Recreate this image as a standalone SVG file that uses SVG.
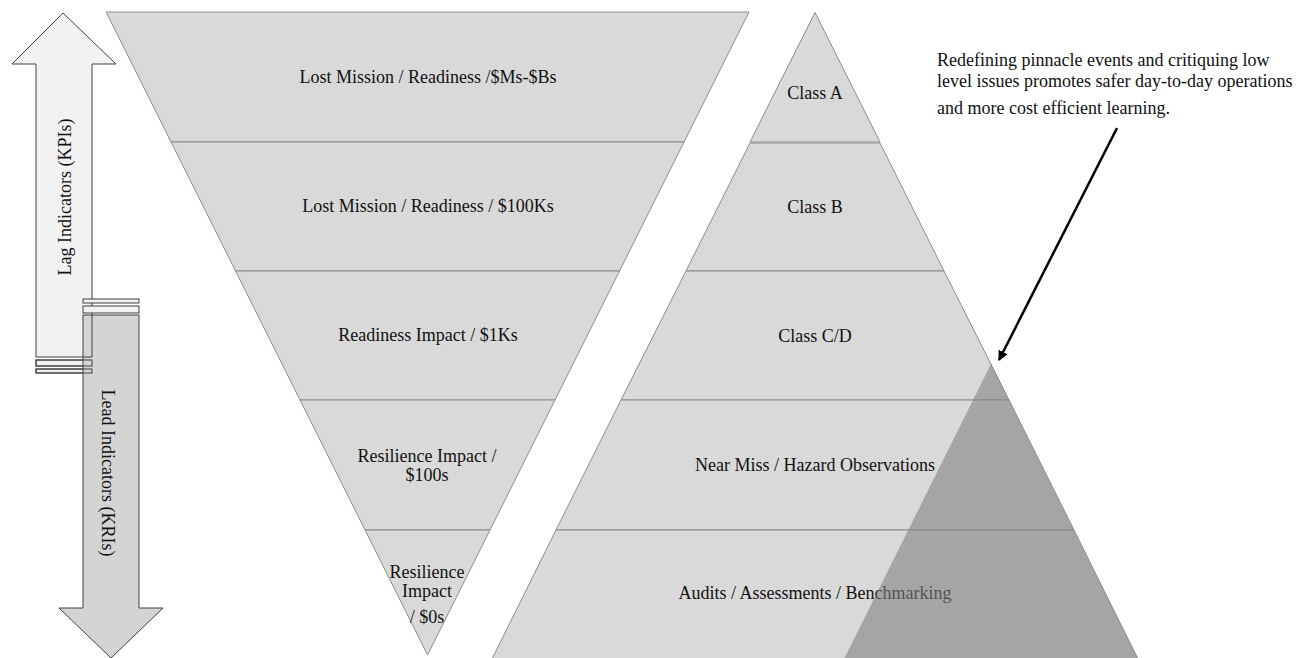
<svg xmlns="http://www.w3.org/2000/svg" width="1309" height="658" viewBox="0 0 1309 658">
<defs>
<style>
.band{fill:#d9d9d9;stroke:#8c8c8c;stroke-width:1}
.lbl{font-family:"Liberation Serif","Times New Roman",serif;font-size:18px;fill:#111;text-anchor:middle}
.note{font-family:"Liberation Serif","Times New Roman",serif;font-size:18px;fill:#111}
.arr{stroke:#404040;stroke-width:1}
</style>
<marker id="ah" viewBox="0 0 10 10" refX="9" refY="5" markerWidth="4" markerHeight="4" orient="auto" markerUnits="strokeWidth">
<path d="M0,0 L10,5 L0,10 Z" fill="#000"/>
</marker>
</defs>
<rect width="1309" height="658" fill="#fff"/>

<g id="lag-arrow">
<path class="arr" fill="#f2f2f2" d="M63,13 L116,64 L92,64 L92,357 L36,357 L36,64 L12,64 Z"/>
<rect class="arr" fill="#f2f2f2" x="36" y="360" width="56" height="6"/>
<rect class="arr" fill="#f2f2f2" x="36" y="369" width="56" height="4"/>
</g>
<g id="lead-arrow">
<rect class="arr" fill="#f2f2f2" x="83" y="299" width="56" height="4"/>
<rect class="arr" fill="#f2f2f2" x="83" y="306" width="56" height="7"/>
<path class="arr" fill="#d4d4d4" d="M83,315 L139,315 L139,608 L163,608 L111,658 L59,608 L83,608 Z"/>
</g>
<g id="lag-outline" fill="none">
<path class="arr" d="M92,315 L92,357 L83,357"/>
<rect class="arr" x="36" y="360" width="56" height="6"/>
<rect class="arr" x="36" y="369" width="56" height="4"/>
</g>
<text class="lbl" transform="translate(71,197) rotate(-90)">Lag Indicators (KPIs)</text>
<text class="lbl" transform="translate(102,473) rotate(90)">Lead Indicators (KRIs)</text>

<g id="inverted-triangle">
<g id="inv-band-1"><polygon class="band" points="106,12 749,12 684,142 171,142"/><text class="lbl" x="428" y="83">Lost Mission / Readiness /$Ms-$Bs</text></g>
<g id="inv-band-2"><polygon class="band" points="171,142 684,142 619.5,271 235.5,271"/><text class="lbl" x="428" y="212">Lost Mission / Readiness / $100Ks</text></g>
<g id="inv-band-3"><polygon class="band" points="235.5,271 619.5,271 555,400 300,400"/><text class="lbl" x="428" y="341">Readiness Impact / $1Ks</text></g>
<g id="inv-band-4"><polygon class="band" points="300,400 555,400 490,530 365,530"/><text class="lbl" x="427" y="462">Resilience Impact /</text><text class="lbl" x="427" y="481">$100s</text></g>
<g id="inv-band-5"><polygon class="band" points="365,530 490,530 427.5,655"/><text class="lbl" x="427" y="578">Resilience</text><text class="lbl" x="427" y="597">Impact</text><text class="lbl" x="427" y="623">/ $0s</text></g>
</g>

<g id="pyramid">
<g id="pyr-band-1"><polygon class="band" points="815,12.5 880,142 750,142"/><text class="lbl" x="815" y="99">Class A</text></g>
<g id="pyr-band-2"><polygon class="band" points="750,143 880,143 944,271 686,271"/><text class="lbl" x="815" y="213">Class B</text></g>
<g id="pyr-band-3"><polygon class="band" points="686,271 944,271 1009,400 621,400"/><text class="lbl" x="815" y="342">Class C/D</text></g>
<g id="pyr-band-4"><polygon class="band" points="621,400 1009,400 1074,530 556,530"/><text class="lbl" x="815" y="471">Near Miss / Hazard Observations</text></g>
<g id="pyr-band-5"><polygon class="band" points="556,530 1074,530 1138,659 492,659"/><text class="lbl" x="815" y="599">Audits / Assessments / Benchmarking</text></g>
</g>

<g id="highlight">
<polygon points="991,364 1138,659 844,659" fill="#7f7f7f" fill-opacity="0.58"/>
</g>

<g id="note">
<text class="note" x="937" y="66">Redefining pinnacle events and critiquing low</text>
<text class="note" x="937" y="87">level issues promotes safer day-to-day operations</text>
<text class="note" x="937" y="114">and more cost efficient learning.</text>
</g>

<g id="connectors">
<line x1="1117" y1="128" x2="999" y2="360" stroke="#000" stroke-width="2.5" marker-end="url(#ah)"/>
</g>
</svg>
